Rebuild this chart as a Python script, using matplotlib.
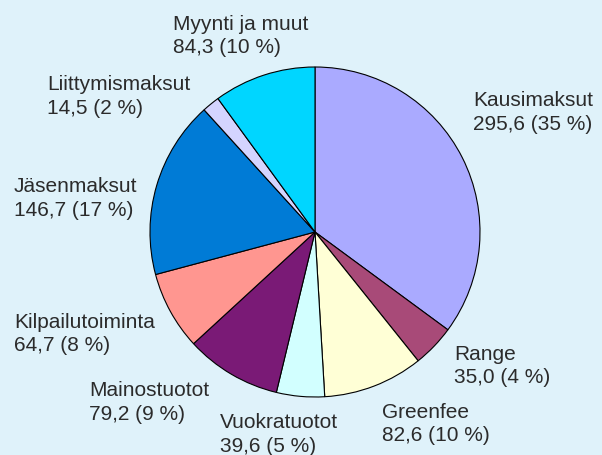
import matplotlib.pyplot as plt

# Income items (1000 €), clockwise from 12 o'clock
categories = ['Kausimaksut', 'Range', 'Greenfee', 'Vuokratuotot', 'Mainostuotot',
              'Kilpailutoiminta', 'Jäsenmaksut', 'Liittymismaksut', 'Myynti ja muut']
values = [295.6, 35.0, 82.6, 39.6, 79.2, 64.7, 146.7, 14.5, 84.3]

colors = ['#aaaaff', '#a84a78', '#ffffd6', '#d2ffff', '#7a1a76',
          '#ff9690', '#007bd6', '#d4d4ff', '#00d6ff']

# label anchors in image pixels: left edge, baseline of the second line
label_px = [(473, 130), (454, 383), (382, 441), (220, 452), (89, 420),
            (14, 351), (14, 216), (47, 114), (173, 53)]

W, H = 602, 455
CX, CY, R = 315, 232, 165
BG = '#dff2fa'

plt.rcParams['font.family'] = ['Liberation Sans', 'DejaVu Sans']

fig = plt.figure(figsize=(W / 100, H / 100), dpi=100, facecolor=BG)
ax = fig.add_axes([0, 0, 1, 1])
ax.set_facecolor(BG)

ax.pie(values, colors=colors, startangle=90, counterclock=False, radius=1,
       wedgeprops=dict(edgecolor='black', linewidth=0.8))

ax.set_xlim(-CX / R, (W - CX) / R)
ax.set_ylim(-(H - CY) / R, CY / R)
ax.set_aspect('auto')
ax.axis('off')

total = sum(values)
for name, v, (px, py) in zip(categories, values, label_px):
    pct = round(v / total * 100)
    txt = f"{name}\n{v:.1f}".replace('.', ',') + f" ({pct} %)"
    fig.text(px / W, 1 - py / H, txt, ha='left', va='baseline', multialignment='left',
             fontsize=15, color='#2b2b2b', linespacing=1.3)

fig.savefig('out.png', dpi=100, facecolor=BG)
